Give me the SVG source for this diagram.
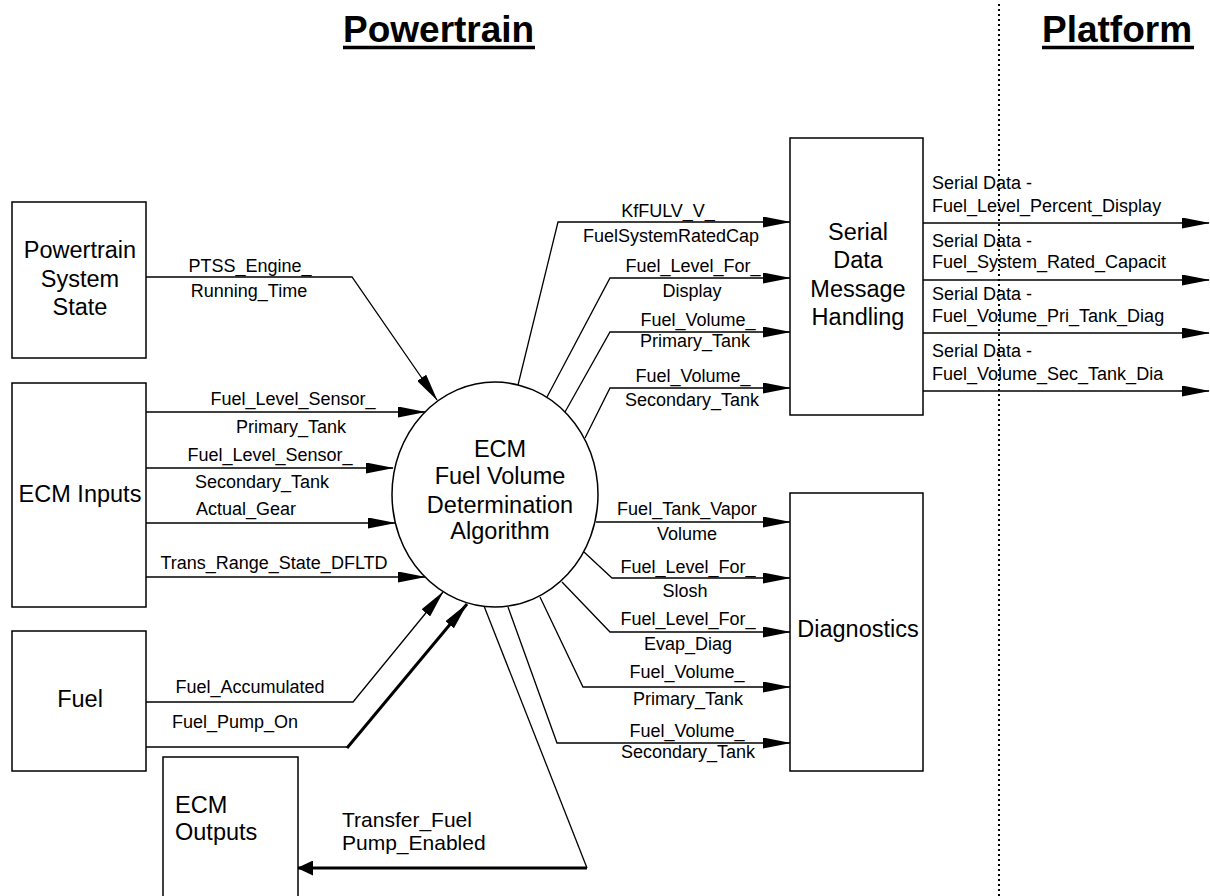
<svg xmlns="http://www.w3.org/2000/svg" width="1210" height="896" viewBox="0 0 1210 896">
<defs>
<style>
text{font-family:"Liberation Sans",Arial,sans-serif;fill:#000}
.lbl{font-size:18px;text-anchor:middle}
.lbll{font-size:18px;text-anchor:start}
.bx{font-size:23.5px;text-anchor:middle}
.bxl{font-size:23.5px;text-anchor:start}
.xf{font-size:21px;text-anchor:start}
.title{font-size:37px;font-weight:bold;text-anchor:start}
.node{fill:#fff;stroke:#000;stroke-width:1.5}
.c{fill:none;stroke:#000;stroke-width:1.3}
.thick{fill:none;stroke:#000;stroke-width:3}
</style>
<marker id="ah" markerUnits="userSpaceOnUse" markerWidth="28" markerHeight="11" refX="27" refY="5.5" orient="auto"><path d="M0,0 L28,5.5 L0,11 z" fill="#000"/></marker>
<marker id="ah2" markerUnits="userSpaceOnUse" markerWidth="16" markerHeight="15" refX="15" refY="7.5" orient="auto"><path d="M0,0 L16,7.5 L0,15 z" fill="#000"/></marker>
</defs>
<rect width="1210" height="896" fill="#fff"/>

<g id="titles">
<text class="title" x="343" y="42">Powertrain</text>
<line x1="343" y1="47.5" x2="535" y2="47.5" stroke="#000" stroke-width="3.5"/>
<text class="title" x="1042" y="42">Platform</text>
<line x1="1042" y1="47.5" x2="1194" y2="47.5" stroke="#000" stroke-width="3.5"/>
<line x1="999" y1="4" x2="999" y2="896" stroke="#000" stroke-width="2" stroke-dasharray="2 3"/>
</g>

<g id="connectors">
<path class="c" d="M146,277 L352,277 L437,400" marker-end="url(#ah)"/>
<path class="c" d="M146,412 L425,412" marker-end="url(#ah)"/>
<path class="c" d="M146,468 L393,468" marker-end="url(#ah)"/>
<path class="c" d="M146,523 L395,523" marker-end="url(#ah)"/>
<path class="c" d="M146,577 L425,577" marker-end="url(#ah)"/>
<path class="c" d="M146,702 L353,702 L443,592" marker-end="url(#ah)"/>
<path class="c" d="M142,747 L347,747"/>
<path class="thick" d="M347,748 L467,604" marker-end="url(#ah)"/>
<path class="c" d="M484,606 L587,868"/>
<path class="thick" d="M587,868 L298,868" marker-end="url(#ah2)"/>

<path class="c" d="M518,385 L558,222 L790,222" marker-end="url(#ah)"/>
<path class="c" d="M547,397 L610,278 L790,278" marker-end="url(#ah)"/>
<path class="c" d="M565,412 L610,332 L790,332" marker-end="url(#ah)"/>
<path class="c" d="M585,438 L610,388 L790,388" marker-end="url(#ah)"/>

<path class="c" d="M596,522 L790,522" marker-end="url(#ah)"/>
<path class="c" d="M584,552 L612,578 L790,578" marker-end="url(#ah)"/>
<path class="c" d="M562,582 L610,632 L790,632" marker-end="url(#ah)"/>
<path class="c" d="M540,597 L583,687 L790,687" marker-end="url(#ah)"/>
<path class="c" d="M508,607 L557,743 L790,743" marker-end="url(#ah)"/>

<path class="c" d="M923,223 L1209,223" marker-end="url(#ah)"/>
<path class="c" d="M923,280 L1209,280" marker-end="url(#ah)"/>
<path class="c" d="M923,333 L1209,333" marker-end="url(#ah)"/>
<path class="c" d="M923,391 L1209,391" marker-end="url(#ah)"/>

<text class="lbl" x="250" y="272">PTSS_Engine_</text>
<text class="lbl" x="249" y="297">Running_Time</text>
<text class="lbl" x="293" y="405">Fuel_Level_Sensor_</text>
<text class="lbl" x="291" y="433">Primary_Tank</text>
<text class="lbl" x="270" y="461">Fuel_Level_Sensor_</text>
<text class="lbl" x="262" y="488">Secondary_Tank</text>
<text class="lbl" x="246" y="515">Actual_Gear</text>
<text class="lbl" x="274" y="569">Trans_Range_State_DFLTD</text>
<text class="lbl" x="250" y="693">Fuel_Accumulated</text>
<text class="lbl" x="235" y="728">Fuel_Pump_On</text>
<text class="xf" x="342" y="827">Transfer_Fuel</text>
<text class="xf" x="342" y="850">Pump_Enabled</text>

<text class="lbl" x="668" y="217">KfFULV_V_</text>
<text class="lbl" x="671" y="242">FuelSystemRatedCap</text>
<text class="lbl" x="693" y="272">Fuel_Level_For_</text>
<text class="lbl" x="692" y="297">Display</text>
<text class="lbl" x="698" y="326">Fuel_Volume_</text>
<text class="lbl" x="695" y="347">Primary_Tank</text>
<text class="lbl" x="693" y="382">Fuel_Volume_</text>
<text class="lbl" x="692" y="406">Secondary_Tank</text>

<text class="lbl" x="687" y="515">Fuel_Tank_Vapor</text>
<text class="lbl" x="687" y="540">Volume</text>
<text class="lbl" x="688" y="573">Fuel_Level_For_</text>
<text class="lbl" x="685" y="597">Slosh</text>
<text class="lbl" x="688" y="625">Fuel_Level_For_</text>
<text class="lbl" x="688" y="650">Evap_Diag</text>
<text class="lbl" x="687" y="678">Fuel_Volume_</text>
<text class="lbl" x="688" y="705">Primary_Tank</text>
<text class="lbl" x="687" y="737">Fuel_Volume_</text>
<text class="lbl" x="688" y="758">Secondary_Tank</text>

<text class="lbll" x="932" y="189">Serial Data -</text>
<text class="lbll" x="932" y="212">Fuel_Level_Percent_Display</text>
<text class="lbll" x="932" y="247">Serial Data -</text>
<text class="lbll" x="932" y="268">Fuel_System_Rated_Capacit</text>
<text class="lbll" x="932" y="300">Serial Data -</text>
<text class="lbll" x="932" y="322">Fuel_Volume_Pri_Tank_Diag</text>
<text class="lbll" x="932" y="357">Serial Data -</text>
<text class="lbll" x="932" y="380">Fuel_Volume_Sec_Tank_Dia</text>
</g>

<g id="pss">
<rect class="node" x="12" y="202" width="134" height="156"/>
<text class="bx" x="80" y="258">Powertrain</text>
<text class="bx" x="80" y="287">System</text>
<text class="bx" x="80" y="315">State</text>
</g>

<g id="ecm-inputs">
<rect class="node" x="12" y="383" width="134" height="224"/>
<text class="bx" x="80" y="502">ECM Inputs</text>
</g>

<g id="fuel">
<rect class="node" x="12" y="631" width="134" height="140"/>
<text class="bx" x="80" y="707">Fuel</text>
</g>

<g id="ecm-outputs">
<rect class="node" x="163" y="757" width="135" height="145"/>
<text class="bxl" x="175" y="813">ECM</text>
<text class="bxl" x="175" y="840">Outputs</text>
</g>

<g id="algorithm">
<ellipse class="node" cx="495" cy="494.5" rx="103" ry="112.5"/>
<text class="bx" x="500" y="457">ECM</text>
<text class="bx" x="500" y="484">Fuel Volume</text>
<text class="bx" x="500" y="513">Determination</text>
<text class="bx" x="500" y="539">Algorithm</text>
</g>

<g id="serial">
<rect class="node" x="790" y="138" width="133" height="277"/>
<text class="bx" x="858" y="240">Serial</text>
<text class="bx" x="858" y="268">Data</text>
<text class="bx" x="858" y="297">Message</text>
<text class="bx" x="858" y="325">Handling</text>
</g>

<g id="diagnostics">
<rect class="node" x="790" y="493" width="133" height="278"/>
<text class="bx" x="858" y="637">Diagnostics</text>
</g>
</svg>
